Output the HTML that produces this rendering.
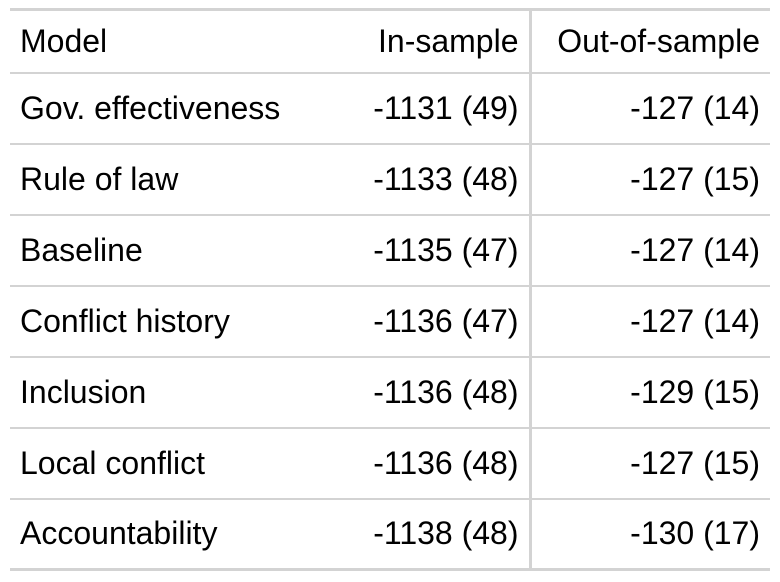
<!DOCTYPE html>
<html><head><meta charset="utf-8"><style>
html,body{margin:0;padding:0;background:#fff;width:780px;height:582px;overflow:hidden}
table{position:absolute;left:10px;top:8px;width:760px;border-collapse:collapse;font-family:"Liberation Sans",sans-serif;font-size:32px;color:#000}
th,td{height:71px;padding:0 10px;font-weight:normal;box-sizing:border-box;white-space:nowrap}
thead tr{border-top:3px solid #d3d3d3;border-bottom:2px solid #d3d3d3}
thead th{height:63px}
tbody tr{border-bottom:2px solid #d3d3d3}
tbody tr:last-child{border-bottom:3px solid #d3d3d3}
.l{text-align:left}.r{text-align:right}
.c2{border-right:3px solid #d3d3d3;width:190px}
.c1{width:330px}
</style></head><body>
<table>
<thead><tr>
<th class="l c1">Model</th>
<th class="r c2">In-sample</th>
<th class="r">Out-of-sample</th></tr></thead>
<tbody>
<tr><td class="l">Gov. effectiveness</td><td class="r c2">-1131 (49)</td><td class="r">-127 (14)</td></tr>
<tr><td class="l">Rule of law</td><td class="r c2">-1133 (48)</td><td class="r">-127 (15)</td></tr>
<tr><td class="l">Baseline</td><td class="r c2">-1135 (47)</td><td class="r">-127 (14)</td></tr>
<tr><td class="l">Conflict history</td><td class="r c2">-1136 (47)</td><td class="r">-127 (14)</td></tr>
<tr><td class="l">Inclusion</td><td class="r c2">-1136 (48)</td><td class="r">-129 (15)</td></tr>
<tr><td class="l">Local conflict</td><td class="r c2">-1136 (48)</td><td class="r">-127 (15)</td></tr>
<tr><td class="l">Accountability</td><td class="r c2">-1138 (48)</td><td class="r">-130 (17)</td></tr>
</tbody></table>
</body></html>
